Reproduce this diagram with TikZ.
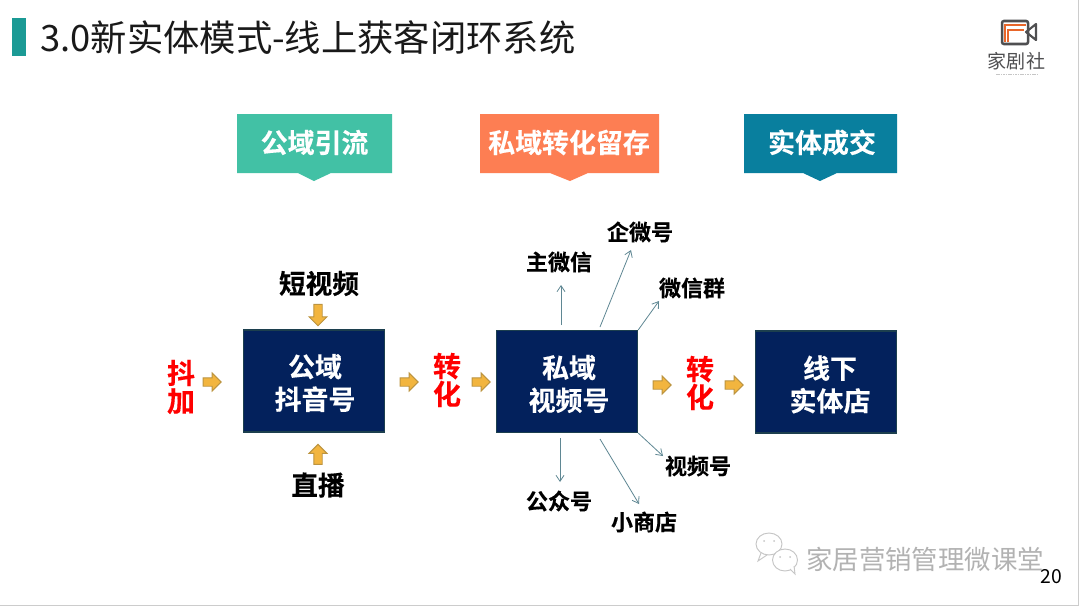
\documentclass[tikz,border=0pt]{standalone}
\usepackage{fontspec}
\setmainfont{Noto Sans CJK SC}
\newfontfamily\heavyfont[UprightFont=* Bold,FakeBold=0.25]{Noto Sans CJK SC}
\usepackage{xcolor}
\usetikzlibrary{shapes.arrows,arrows.meta}
\definecolor{navybox}{HTML}{03215C}
\definecolor{navyedge}{HTML}{1C3F4E}
\definecolor{tealbar}{HTML}{1B9A95}
\definecolor{greentab}{HTML}{42C1A5}
\definecolor{orangetab}{HTML}{FD7E53}
\definecolor{bluetab}{HTML}{097F9E}
\definecolor{goldfill}{HTML}{F2B53F}
\definecolor{goldedge}{HTML}{BC9440}
\definecolor{flowcol}{HTML}{5F8793}
\definecolor{logogray}{HTML}{4F4F51}
\definecolor{logoorange}{HTML}{E8662A}
\tikzset{>=stealth,
    mainbox/.style={draw=navyedge,line width=0.8pt,fill=navybox,minimum width=106pt,minimum height=76.5pt,inner sep=0pt},
    boxlabel/.style={text=white,font=\heavyfont\fontsize{20.2}{24.5}\selectfont,align=center,inner sep=0pt},
    tablabel/.style={text=white,font=\heavyfont\fontsize{20.2}{24}\selectfont,inner sep=0pt},
    inlabel/.style={text=black,font=\heavyfont\fontsize{20}{24}\selectfont,inner sep=0pt},
    outlabel/.style={text=black,font=\heavyfont\fontsize{16.5}{20}\selectfont,inner sep=0pt},
    redlabel/.style={text=red,font=\heavyfont\fontsize{21}{21}\selectfont,align=center,inner sep=0pt},
    goldarrow/.style={single arrow,draw=goldedge,line width=0.7pt,fill=goldfill,minimum height=13.5pt,minimum width=13.5pt,single arrow head extend=3pt,inner sep=2.3pt},
    flowline/.style={->,draw=flowcol,line width=0.6pt,>={Straight Barb[length=4.5pt,width=6pt]}}
}
\begin{document}
\begin{tikzpicture}[x=0.75pt,y=-0.75pt]
    \useasboundingbox (0,0) rectangle (1080,607);
    \fill[white] (0,0) rectangle (1080,607);
    \draw[gray!40,line width=1pt] (0,605.5) -- (1078.5,605.5) -- (1078.5,0);

    %title
    \fill[tealbar] (12,18) rectangle (26,56);
    \node[anchor=west,inner sep=0pt,text=black!90,font=\fontsize{27.25}{32}\selectfont] (title) at (40,38) {3.0新实体模式-线上获客闭环系统};

    %logo
    \draw[logogray,line width=1.9pt,rounded corners=1.5pt] (1002,21) rectangle (1028,44);
    \draw[logogray,line width=1.6pt,line join=round] (1036,24) -- (1026,32) -- (1036,40) -- cycle;
    \draw[logoorange,line width=1.5pt] (1004.5,42) -- (1004.5,25) -- (1026,25);
    \draw[logoorange,line width=1.5pt] (1008,42) -- (1008,30) -- (1024,30);
    \node[text=logogray,inner sep=0pt,font=\fontsize{14.3}{16}\selectfont] (logotext) at (1016.5,61) {家剧社};
    \draw[gray!45,line width=1.2pt,dash pattern=on 1.2pt off 0.6pt] (996,74.5) -- (1038,74.5);

    %tabs
    \fill[greentab] (237,114) -- (392,114) -- (392,173) -- (331,173) -- (314,181) -- (298,173) -- (237,173) -- cycle;
    \fill[orangetab] (480,114) -- (659,114) -- (659,173) -- (588,173) -- (570,181) -- (550,173) -- (480,173) -- cycle;
    \fill[bluetab] (744,114) -- (897,114) -- (897,173) -- (837,173) -- (820,181) -- (803,173) -- (744,173) -- cycle;
    \node[tablabel] (tabone) at (314.5,142.5) {公域引流};
    \node[tablabel] (tabtwo) at (569,142.5) {私域转化留存};
    \node[tablabel] (tabthree) at (822,142.5) {实体成交};

    %boxes
    \node[mainbox] (gongyu) at (314,381) {};
    \node[mainbox] (siyu) at (567,381.5) {};
    \node[mainbox] (shiti) at (826,382) {};
    \node[boxlabel] (gongyutext) at (315,383) {公域\\抖音号};
    \node[boxlabel] (siyutext) at (569,384) {私域\\视频号};
    \node[boxlabel] (shititext) at (830,384.5) {线下\\实体店};

    %left side
    \node[inlabel] (duan) at (319,283.5) {短视频};
    \node[inlabel] (zhibo) at (318,485) {直播};
    \node[redlabel] (doujia) at (181,387) {抖\\加};
    \node[goldarrow,rotate=-90,minimum height=16pt] (arrtop) at (318,313) {};
    \node[goldarrow,rotate=90,minimum height=15pt] (arrbot) at (318,456.5) {};
    \node[goldarrow] (arrl) at (210,382) {};
    \node[goldarrow] (arrm) at (407,382) {};
    \node[redlabel] (zhuana) at (447,380) {转\\化};
    \node[goldarrow] (arrn) at (479,382) {};
    \node[goldarrow] (arrp) at (660,385) {};
    \node[redlabel] (zhuanb) at (700,383) {转\\化};
    \node[goldarrow] (arrq) at (732,385) {};

    %outputs
    \node[outlabel] (zhuwx) at (559,262) {主微信};
    \node[outlabel] (qiwei) at (640,232) {企微号};
    \node[outlabel] (wxqun) at (692,288) {微信群};
    \node[outlabel] (shipin) at (698,466) {视频号};
    \node[outlabel] (gongzh) at (559,501) {公众号};
    \node[outlabel] (xiaosd) at (644,522) {小商店};

    \coordinate (azhu) at (561,285);
    \coordinate (aqi) at (631,250);
    \coordinate (aqun) at (659,301);
    \coordinate (ashi) at (663,456);
    \coordinate (agong) at (560,482);
    \coordinate (axiao) at (639,504);

    \draw[flowline] (561,325) -- (azhu);
    \draw[flowline] (600,327) -- (aqi);
    \draw[flowline] (siyu.north east) -- (aqun);
    \draw[flowline] (siyu.south east) -- (ashi);
    \draw[flowline] (560,438) -- (agong);
    \draw[flowline] (600,439) -- (axiao);

    %watermark
    \node[anchor=west,inner sep=0pt,text=gray!60,font=\fontsize{19.8}{24}\selectfont] (water) at (806,559) {家居营销管理微课堂};
    \draw[gray!45,line width=0.7pt,fill=white] (769,544) ellipse (13 and 11);
    \draw[gray!45,line width=0.7pt] (761,553) -- (758,561) -- (767,555);
    \fill[gray!45] (764,541) circle (1) (774,541) circle (1);
    \draw[gray!45,line width=0.7pt,fill=white] (785,560) ellipse (12.5 and 11);
    \draw[gray!45,line width=0.7pt,fill=white] (790,569) -- (795,574) -- (794,566);
    \fill[gray!45] (780,557) circle (1) (790,557) circle (1);
    \node[anchor=east,inner sep=0pt,text=black,font=\fontsize{14.5}{16}\selectfont] (pagenum) at (1062,577) {20};
\end{tikzpicture}
\end{document}
